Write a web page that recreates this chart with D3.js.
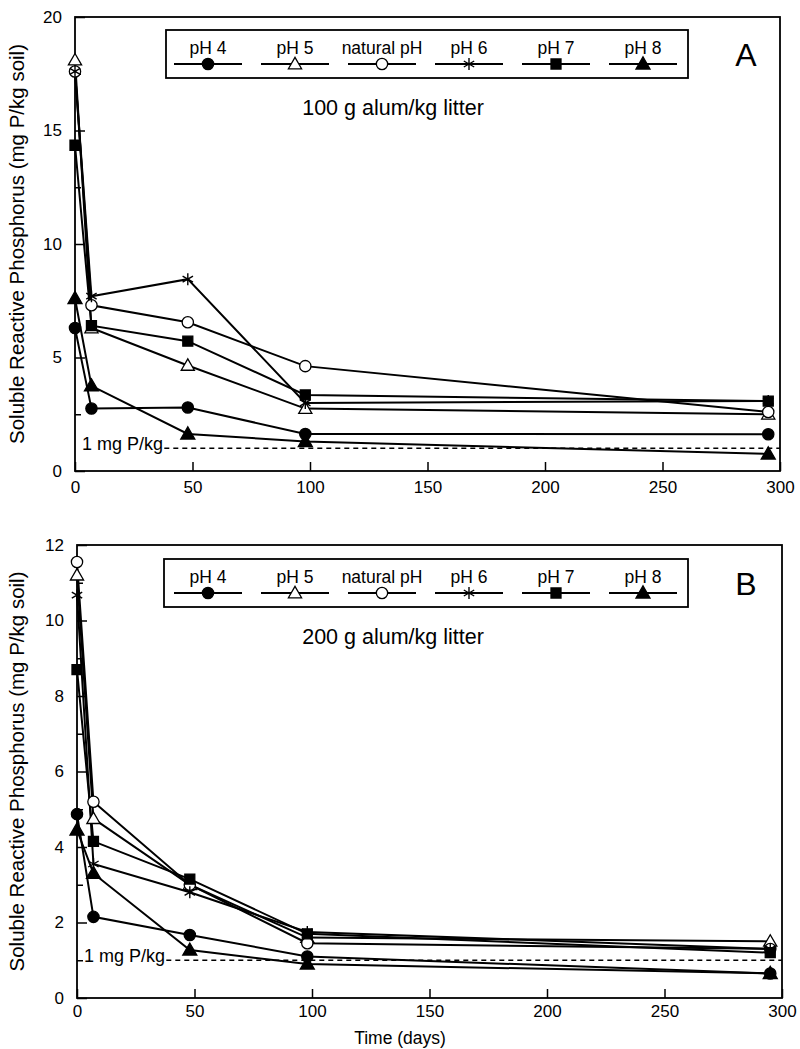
<!DOCTYPE html>
<html>
<head>
<meta charset="utf-8">
<script src="https://cdn.jsdelivr.net/npm/d3@7"></script>
<style>
    body { margin: 0; background: #fff; }
    svg { display: block; font-family: "Liberation Sans", Arial, sans-serif; }
</style>
</head>
<body>
<script>
const w = 800;
const h = 1049;

// sampling days
const days = [0, 7, 48, 98, 295];
const seriesNames = ["pH 4", "pH 5", "natural pH", "pH 6", "pH 7", "pH 8"];

// 100 g alum/kg litter
const ph4A = [6.3, 2.75, 2.8, 1.63, 1.62];
const ph5A = [18.1, 6.3, 4.65, 2.75, 2.5];
const naturalA = [17.6, 7.3, 6.55, 4.62, 2.6];
const ph6A = [17.6, 7.7, 8.45, 3.0, 3.08];
const ph7A = [14.35, 6.4, 5.72, 3.35, 3.08];
const ph8A = [7.6, 3.75, 1.63, 1.3, 0.75];

// 200 g alum/kg litter
const ph4B = [4.87, 2.15, 1.67, 1.1, 0.65];
const ph5B = [11.2, 4.75, 3.0, 1.6, 1.5];
const naturalB = [11.55, 5.2, 3.0, 1.45, 1.3];
const ph6B = [10.67, 3.55, 2.8, 1.75, 1.3];
const ph7B = [8.7, 4.15, 3.15, 1.7, 1.2];
const ph8B = [4.45, 3.3, 1.27, 0.9, 0.65];

const xTicks = [0, 50, 100, 150, 200, 250, 300];
const yTicksA = [0, 5, 10, 15, 20];
const yMinorA = [2.5, 7.5, 12.5, 17.5];
const yTicksB = [0, 2, 4, 6, 8, 10, 12];
const yMinorB = [1, 3, 5, 7, 9, 11];

// 1 mg P/kg threshold and where its dashes run
const threshold = 1;
const thresholdDays = [38, 300];

const font = "\"Liberation Sans\", Arial, sans-serif";

const svg = d3.select("body")
    .append("svg")
    .attr("width", w)
    .attr("height", h)
    ;

function marker(g, i, cx, cy) {
    // 0 filled circle, 1 open triangle, 2 open circle, 3 asterisk, 4 filled square, 5 filled triangle
    if (i == 3) {
        g.append("path")
            .attr("transform", `translate(${cx},${cy})`)
            .attr("d", "M0,-6L0,6M-5.2,-3L5.2,3M-5.2,3L5.2,-3")
            .attr("stroke", "#000")
            .attr("stroke-width", 1.4)
            .attr("fill", "none")
            ;
        return;
    }
    const types = [d3.symbolCircle, d3.symbolTriangle, d3.symbolCircle, null, d3.symbolSquare, d3.symbolTriangle];
    const sizes = [100, 75, 100, 0, 100, 85];
    const open = (i == 1 || i == 2);
    g.append("path")
        .attr("transform", `translate(${cx},${cy + (types[i] == d3.symbolTriangle ? 1 : 0)})`)
        .attr("d", d3.symbol().type(types[i]).size(sizes[i])())
        .attr("fill", open ? "#fff" : "#000")
        .attr("stroke", "#000")
        .attr("stroke-width", 1.3)
        ;
}

function drawPanel(cfg) {
    const g = svg.append("g");

    const xScale = d3.scaleLinear()
        .domain([0, 300])
        .range([cfg.left, cfg.right])
        ;
    const yScale = d3.scaleLinear()
        .domain([0, cfg.yMax])
        .range([cfg.bottom, cfg.top])
        ;

    // frame
    g.append("rect")
        .attr("x", xScale(0))
        .attr("y", yScale(cfg.yMax))
        .attr("width", xScale(300) - xScale(0))
        .attr("height", yScale(0) - yScale(cfg.yMax))
        .attr("fill", "none")
        .attr("stroke", "#000")
        .attr("stroke-width", 1.8)
        ;

    const xAxis = d3.axisBottom(xScale)
        .tickValues(xTicks)
        .tickSizeInner(-9)
        .tickSizeOuter(0)
        .tickPadding(cfg.tickPad)
        ;
    const yAxis = d3.axisLeft(yScale)
        .tickValues(cfg.yTicks)
        .tickSizeInner(-10)
        .tickSizeOuter(0)
        .tickPadding(13)
        ;
    const yMinor = d3.axisLeft(yScale)
        .tickValues(cfg.yMinor)
        .tickSizeInner(-6)
        .tickSizeOuter(0)
        .tickFormat("")
        ;

    [
        g.append("g").attr("transform", `translate(0,${yScale(0)})`).call(xAxis),
        g.append("g").attr("transform", `translate(${xScale(0)},0)`).call(yAxis),
        g.append("g").attr("transform", `translate(${xScale(0)},0)`).call(yMinor),
    ].forEach(a => {
        a.attr("font-family", font).attr("font-size", 17);
        a.select(".domain").remove();
        a.selectAll("line").attr("stroke-width", 1.5);
        a.selectAll("text").attr("fill", "#000");
    });

    g.append("text")
        .attr("transform", `translate(24,${(yScale(0) + yScale(cfg.yMax)) / 2}) rotate(-90)`)
        .attr("text-anchor", "middle")
        .attr("font-size", 20.5)
        .text("Soluble Reactive Phosphorus (mg P/kg soil)")
        ;

    // threshold
    g.append("line")
        .attr("x1", xScale(thresholdDays[0]))
        .attr("x2", xScale(thresholdDays[1]))
        .attr("y1", yScale(threshold))
        .attr("y2", yScale(threshold))
        .attr("stroke", "#000")
        .attr("stroke-width", 1.6)
        .attr("stroke-dasharray", "5,4")
        ;
    g.append("text")
        .attr("x", xScale(3))
        .attr("y", yScale(threshold) + 2)
        .attr("font-size", 18)
        .text("1 mg P/kg")
        ;

    const line = d3.line()
        .x(d => xScale(d[0]))
        .y(d => yScale(d[1]))
        ;

    g.selectAll("path.series")
        .data(cfg.values)
        .enter()
        .append("path")
        .attr("class", "series")
        .attr("d", v => line(d3.zip(days, v)))
        .attr("fill", "none")
        .attr("stroke", "#000")
        .attr("stroke-width", 2)
        ;

    cfg.values.forEach((v, i) => {
        v.forEach((val, j) => marker(g, i, xScale(days[j]), yScale(val)));
    });

    // legend
    const lg = g.append("g");
    lg.append("rect")
        .attr("x", cfg.legend[0])
        .attr("y", cfg.legend[1])
        .attr("width", cfg.legend[2] - cfg.legend[0])
        .attr("height", 48)
        .attr("fill", "#fff")
        .attr("stroke", "#000")
        .attr("stroke-width", 1.8)
        ;
    const lx = d3.scalePoint()
        .domain(seriesNames)
        .range([208, 643])
        ;
    seriesNames.forEach((name, i) => {
        const cx = lx(name);
        const ly = cfg.legend[1] + 34;
        lg.append("text")
            .attr("x", cx)
            .attr("y", cfg.legend[1] + 24)
            .attr("text-anchor", "middle")
            .attr("font-size", 17.5)
            .text(name)
            ;
        lg.append("line")
            .attr("x1", cx - 34)
            .attr("x2", cx + 34)
            .attr("y1", ly)
            .attr("y2", ly)
            .attr("stroke", "#000")
            .attr("stroke-width", 1.8)
            ;
        marker(lg, i, cx, ly);
    });

    g.append("text")
        .attr("x", 393)
        .attr("y", cfg.legend[1] + 85)
        .attr("text-anchor", "middle")
        .attr("font-size", 21.5)
        .text(cfg.subtitle)
        ;
    g.append("text")
        .attr("x", 746)
        .attr("y", cfg.legend[1] + 36)
        .attr("text-anchor", "middle")
        .attr("font-size", 32)
        .text(cfg.letter)
        ;
}

drawPanel({
    left: 75, right: 780, top: 17, bottom: 471,
    yMax: 20, yTicks: yTicksA, yMinor: yMinorA, tickPad: 10,
    values: [ph4A, ph5A, naturalA, ph6A, ph7A, ph8A],
    legend: [166, 30, 688],
    subtitle: "100 g alum/kg litter",
    letter: "A",
});

drawPanel({
    left: 77, right: 782, top: 545, bottom: 998,
    yMax: 12, yTicks: yTicksB, yMinor: yMinorB, tickPad: 7,
    values: [ph4B, ph5B, naturalB, ph6B, ph7B, ph8B],
    legend: [164, 559, 688],
    subtitle: "200 g alum/kg litter",
    letter: "B",
});

svg.append("text")
    .attr("x", 400)
    .attr("y", 1044)
    .attr("text-anchor", "middle")
    .attr("font-size", 17.5)
    .text("Time (days)")
    ;
</script>
</body>
</html>
